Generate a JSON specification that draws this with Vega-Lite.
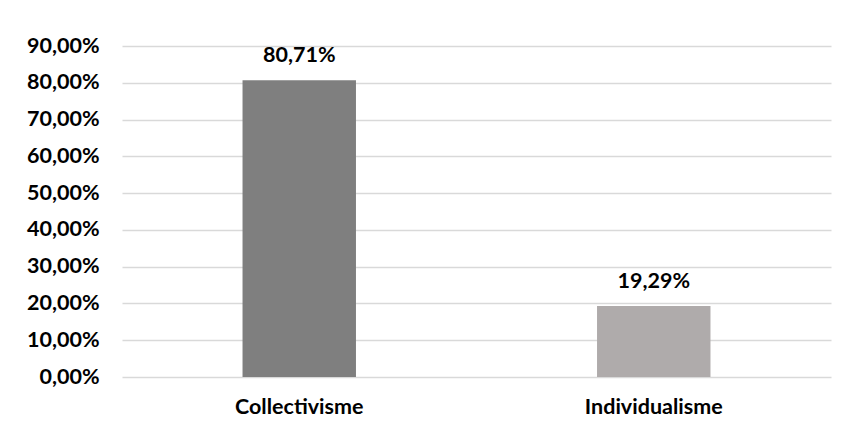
{
  "$schema": "https://vega.github.io/schema/vega-lite/v6.json",
  "width": 709,
  "height": 331,
  "autosize": "none",
  "padding": {"left": 122, "top": 46, "right": 16, "bottom": 56},
  "background": "white",
  "config": {
    "locale": {"number": {"decimal": ",", "thousands": ".", "grouping": [3], "currency": ["", " €"]}},
    "view": {"stroke": null},
    "font": "Lato"
  },
  "data": {
    "values": [
      {"category": "Collectivisme", "value": 0.8071},
      {"category": "Individualisme", "value": 0.1929}
    ]
  },
  "encoding": {
    "x": {
      "field": "category",
      "type": "nominal",
      "sort": null,
      "scale": {"paddingInner": 0.68, "paddingOuter": 0.34},
      "axis": {
        "title": null,
        "labelAngle": 0,
        "ticks": false,
        "tickSize": 0,
        "domain": false,
        "labelFont": "Lato",
        "labelFontWeight": "bold",
        "labelFontSize": 21.5,
        "labelColor": "#000000",
        "labelPadding": 19,
        "labelBaseline": "top"
      }
    },
    "y": {
      "field": "value",
      "type": "quantitative",
      "scale": {"domain": [0, 0.9], "nice": false},
      "axis": {
        "title": null,
        "values": [0, 0.1, 0.2, 0.3, 0.4, 0.5, 0.6, 0.7, 0.8, 0.9],
        "format": ".2%",
        "ticks": false,
        "tickSize": 0,
        "domain": false,
        "gridColor": "#d9d9d9",
        "gridWidth": 1.5,
        "labelFont": "Lato",
        "labelFontWeight": "bold",
        "labelFontSize": 21.5,
        "labelColor": "#000000",
        "labelPadding": 23
      }
    }
  },
  "layer": [
    {
      "mark": {"type": "bar"},
      "encoding": {
        "color": {
          "field": "category",
          "type": "nominal",
          "scale": {"domain": ["Collectivisme", "Individualisme"], "range": ["#7f7f7f", "#afabab"]},
          "legend": null
        }
      }
    },
    {
      "mark": {"type": "text", "baseline": "alphabetic", "dy": -18, "font": "Lato", "fontWeight": "bold", "fontSize": 21.5, "color": "#000000"},
      "encoding": {
        "text": {"field": "value", "type": "quantitative", "format": ".2%"}
      }
    }
  ]
}
